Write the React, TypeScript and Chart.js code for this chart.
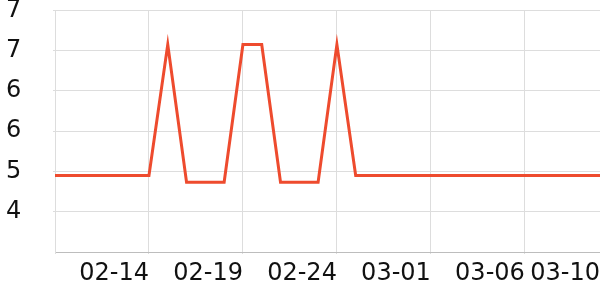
import React, { useEffect, useRef } from "react";
import { Chart, registerables } from "chart.js";

Chart.register(...registerables);

const dates = [
  "02-09", "02-10", "02-11", "02-12", "02-13", "02-14", "02-15", "02-16", "02-17", "02-18",
  "02-19", "02-20", "02-21", "02-22", "02-23", "02-24", "02-25", "02-26", "02-27", "02-28",
  "03-01", "03-02", "03-03", "03-04", "03-05", "03-06", "03-07", "03-08", "03-09", "03-10",
];

const values = [
  4.94, 4.94, 4.94, 4.94, 4.94, 4.94, 6.89, 4.84, 4.84, 4.84,
  6.89, 6.89, 4.84, 4.84, 4.84, 6.89, 4.94, 4.94, 4.94, 4.94,
  4.94, 4.94, 4.94, 4.94, 4.94, 4.94, 4.94, 4.94, 4.94, 4.94,
];

const xTickLabels = ["02-14", "02-19", "02-24", "03-01", "03-06", "03-10"];
const xGridDates = ["02-09", "02-14", "02-19", "02-24", "03-01", "03-06"];

const yTickValues = [3.8, 4.4, 5.0, 5.6, 6.2, 6.8, 7.4];
const yTickLabels = ["", "4", "5", "6", "6", "7", "7"];

const LINE_COLOR = "#ee4b2e";
const GRID_COLOR = "#dddddd";
const AXIS_COLOR = "#bdbdbd";
const TEXT_COLOR = "#111111";

export default function App() {
  const ref = useRef<HTMLCanvasElement | null>(null);

  useEffect(() => {
    document.body.style.margin = "0";
    const canvas = ref.current;
    if (!canvas) return;
    const chart = new Chart(canvas, {
      type: "line",
      data: {
        labels: dates,
        datasets: [
          {
            data: values,
            borderColor: LINE_COLOR,
            backgroundColor: LINE_COLOR,
            borderWidth: 3,
            pointRadius: 0,
            pointHoverRadius: 0,
            tension: 0,
            fill: false,
          },
        ],
      },
      options: {
        animation: false,
        responsive: false,
        maintainAspectRatio: false,
        layout: { padding: { left: 6, top: 0, right: 0, bottom: 0 } },
        plugins: { legend: { display: false }, tooltip: { enabled: false } },
        scales: {
          x: {
            type: "category",
            offset: false,
            border: { display: true, color: AXIS_COLOR, width: 1 },
            grid: {
              color: (ctx: any) =>
                xGridDates.includes(dates[ctx.index]) ? GRID_COLOR : "rgba(0,0,0,0)",
              tickLength: 2,
              drawTicks: true,
            },
            ticks: {
              autoSkip: false,
              maxRotation: 0,
              minRotation: 0,
              align: "end",
              padding: 0,
              color: TEXT_COLOR,
              font: { family: "'DejaVu Sans'", size: 24, lineHeight: 1.675 },
              callback: (_v: any, i: number) =>
                xTickLabels.includes(dates[i]) ? dates[i] : "",
            },
            afterFit: (s: any) => {
              s.height = 48;
            },
          },
          y: {
            type: "linear",
            min: 3.8,
            max: 7.4,
            border: { display: true, color: GRID_COLOR, width: 1 },
            grid: {
              color: (ctx: any) => (ctx.index === 0 ? "rgba(0,0,0,0)" : GRID_COLOR),
              tickLength: 2,
            },
            afterBuildTicks: (axis: any) => {
              axis.ticks = yTickValues.map((v) => ({ value: v }));
            },
            ticks: {
              crossAlign: "far",
              padding: 0,
              color: TEXT_COLOR,
              font: { family: "'DejaVu Sans'", size: 24, lineHeight: 0.86 },
              callback: (_v: any, i: number) => yTickLabels[i],
            },
            afterFit: (s: any) => {
              s.width = 49;
            },
          },
        },
      },
    });
    return () => chart.destroy();
  }, []);

  return (
    <canvas
      ref={ref}
      width={600}
      height={300}
      style={{ display: "block", width: 600, height: 300 }}
    />
  );
}
